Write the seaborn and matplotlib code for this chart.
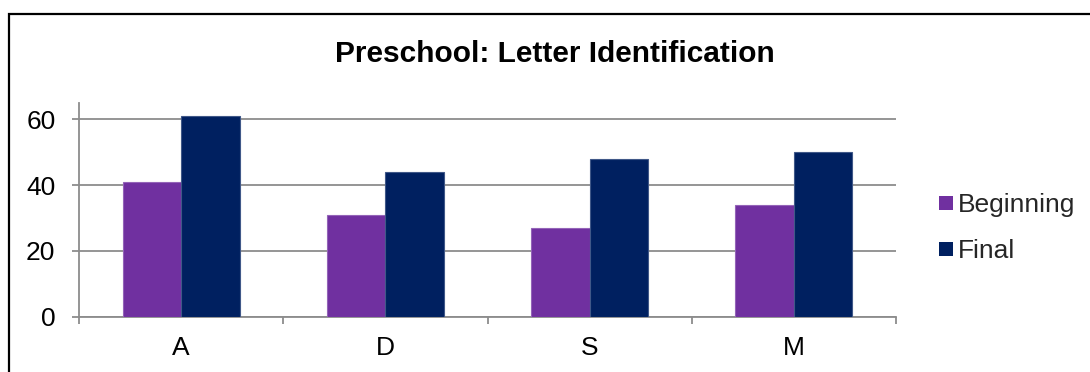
import matplotlib
matplotlib.use("Agg")
import matplotlib.pyplot as plt
from matplotlib.patches import Rectangle
from matplotlib.lines import Line2D
from matplotlib.ticker import FixedLocator
from matplotlib.colors import to_rgb
import seaborn as sns
import pandas as pd

# Data
letters = ["A", "D", "S", "M"]
beginning = [41, 31, 27, 34]
final = [61, 44, 48, 50]
series_names = ["Beginning", "Final"]
series_colors = ["#7030A0", "#002060"]
title = "Preschool: Letter Identification"

df = pd.DataFrame({
    "Letter": letters * 2,
    "Score": beginning + final,
    "Series": [series_names[0]] * len(letters) + [series_names[1]] * len(letters),
})

sns.set_theme(style="white")
plt.rcParams["font.family"] = ["Liberation Sans", "DejaVu Sans"]

W, H = 1090, 372
fig = plt.figure(figsize=(W / 100, H / 100), dpi=100)
ax = fig.add_axes([79 / W, (H - 316.7) / H, (896 - 79) / W, (316.7 - 103) / H])

sns.barplot(data=df, x="Letter", y="Score", hue="Series", order=letters,
            hue_order=series_names, palette=series_colors, width=0.573,
            linewidth=0, saturation=1, legend=False, ax=ax, zorder=3)

# thin lighter outline on each bar
for patch in ax.patches:
    r, g, b = to_rgb(patch.get_facecolor())
    patch.set_edgecolor((r + (1 - r) * 0.25, g + (1 - g) * 0.25, b + (1 - b) * 0.25))
    patch.set_linewidth(0.8)

grid_c = "#8c8c8c"
ax.set_xlim(-0.5, len(letters) - 0.5)
ax.set_ylim(0, 65)
ax.set_yticks([0, 20, 40, 60])
ax.yaxis.grid(True, color=grid_c, linewidth=1.3, zorder=0)
ax.set_axisbelow(True)
ax.set_xlabel("")
ax.set_ylabel("")

for side in ["top", "right"]:
    ax.spines[side].set_visible(False)
for side in ["left", "bottom"]:
    ax.spines[side].set_color(grid_c)
    ax.spines[side].set_linewidth(1.3)

ax.tick_params(axis="y", which="major", direction="out", length=5, width=1.3,
               color=grid_c, labelsize=19, pad=12, left=True, labelcolor="black")
ax.tick_params(axis="x", which="major", length=0, labelsize=19, pad=14,
               labelcolor="black")
ax.xaxis.set_minor_locator(FixedLocator([i - 0.5 for i in range(len(letters) + 1)]))
ax.tick_params(axis="x", which="minor", direction="out", length=5, width=1.3,
               color=grid_c, bottom=True)

fig.text(555 / W, (H - 54) / H, title, ha="center", va="center",
         fontsize=21.5, fontweight="bold", color="black")

handles = [Line2D([0], [0], marker="s", linestyle="none", markersize=10,
                  markerfacecolor=c, markeredgewidth=0) for c in series_colors]
fig.legend(handles, series_names, loc="center left",
           bbox_to_anchor=(938 / W, (H - 228) / H), frameon=False,
           fontsize=19, handlelength=0.57, handletextpad=0.2,
           labelspacing=0.85, borderpad=0, borderaxespad=0)

# Frame around the chart area
fig.patches.append(Rectangle((8.5 / W, -0.1), 1.2, (H - 13.5) / H + 0.1,
                             transform=fig.transFigure, fill=False,
                             edgecolor="black", linewidth=1.6))

fig.savefig("out.png", dpi=100)
